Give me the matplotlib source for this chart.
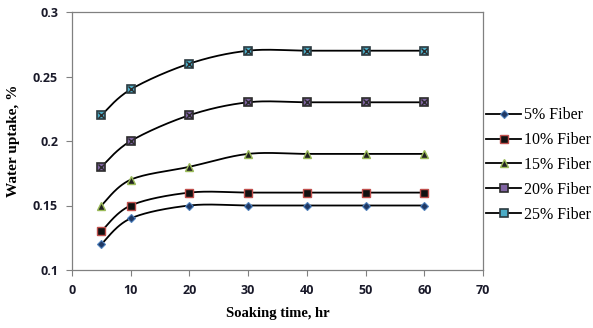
import numpy as np
import matplotlib.pyplot as plt

hours = [5, 10, 20, 30, 40, 50, 60]
fiber_5 = [0.12, 0.14, 0.15, 0.15, 0.15, 0.15, 0.15]
fiber_10 = [0.13, 0.15, 0.16, 0.16, 0.16, 0.16, 0.16]
fiber_15 = [0.15, 0.17, 0.18, 0.19, 0.19, 0.19, 0.19]
fiber_20 = [0.18, 0.20, 0.22, 0.23, 0.23, 0.23, 0.23]
fiber_25 = [0.22, 0.24, 0.26, 0.27, 0.27, 0.27, 0.27]
labels = ['5% Fiber', '10% Fiber', '15% Fiber', '20% Fiber', '25% Fiber']


def smooth(x, y, n=30):
    # excel-like smoothed line: bezier segments with 1/6 tangents
    x = np.asarray(x, float)
    y = np.asarray(y, float)
    px = np.concatenate([[x[0]], x, [x[-1]]])
    py = np.concatenate([[y[0]], y, [y[-1]]])
    t = np.linspace(0, 1, n)
    xs, ys = [], []
    for i in range(1, len(px) - 2):
        p0 = np.array([px[i], py[i]])
        p3 = np.array([px[i + 1], py[i + 1]])
        c1 = p0 + (p3 - np.array([px[i - 1], py[i - 1]])) / 6
        c2 = p3 - (np.array([px[i + 2], py[i + 2]]) - p0) / 6
        pts = ((1 - t) ** 3)[:, None] * p0 + (3 * (1 - t) ** 2 * t)[:, None] * c1 \
            + (3 * (1 - t) * t ** 2)[:, None] * c2 + (t ** 3)[:, None] * p3
        xs.append(pts[:, 0])
        ys.append(pts[:, 1])
    return np.concatenate(xs), np.concatenate(ys)


fig = plt.figure(figsize=(5.93, 3.28), dpi=100)
ax = fig.add_axes([72 / 593, 1 - 270 / 328, 411 / 593, 258 / 328])

styles = [
    dict(marker='D', ms=4, mfc='#1f3864', mec='#4f81bd', mew=0.8),
    dict(marker='s', ms=6, mfc='#111111', mec='#c0504d', mew=1.0),
    dict(marker='^', ms=5.5, mfc='#222222', mec='#9bbb59', mew=1.0),
    dict(marker='s', ms=6.2, mfc='#8064a2', mec='#2b2b2b', mew=1.2),
    dict(marker='s', ms=6.2, mfc='#4bacc6', mec='#2b3a40', mew=1.2),
]
series = [fiber_5, fiber_10, fiber_15, fiber_20, fiber_25]

handles = []
for vals, st, lab in zip(series, styles, labels):
    sx, sy = smooth(hours, vals)
    ax.plot(sx, sy, color='black', lw=1.3, zorder=2)
    ax.plot(hours, vals, ls='none', zorder=3, **st)
    if lab in ('20% Fiber', '25% Fiber'):
        ax.plot(hours, vals, ls='none', marker='x', ms=4.2, mec='#2b2b2b', mew=1.0, zorder=4)
    h, = plt.plot([], [], color='black', lw=1.3, **st)
    handles.append(h)

ax.set_xlim(0, 70)
ax.set_ylim(0.1, 0.3)
ax.set_xticks(range(0, 71, 10))
ax.set_yticks([0.1, 0.15, 0.2, 0.25, 0.3])
ax.set_yticklabels(['0.1', '0.15', '0.2', '0.25', '0.3'])
ax.tick_params(direction='out', length=4, width=0.8, color='#808080',
               labelsize=9, labelcolor='#1a1a2a', pad=6)
for s in ax.spines.values():
    s.set_color('#808080')
    s.set_linewidth(0.9)
for lab in ax.get_xticklabels() + ax.get_yticklabels():
    lab.set_family('Open Sans')
    lab.set_fontweight('bold')

ax.set_xlabel('Soaking time, hr', family='Liberation Serif', fontweight='bold',
              fontsize=10.5, labelpad=7)
ax.set_ylabel('Water uptake, %', family='Liberation Serif', fontweight='bold',
              fontsize=11, labelpad=9)

fig.legend(handles=handles, labels=labels, loc='center left',
           bbox_to_anchor=(486 / 593, 1 - 165 / 328), frameon=False,
           prop={'family': 'Liberation Serif', 'size': 11.5},
           handlelength=2.2, handletextpad=0.2, labelspacing=0.55,
           borderaxespad=0, borderpad=0)

fig.savefig('out.png', dpi=100)
